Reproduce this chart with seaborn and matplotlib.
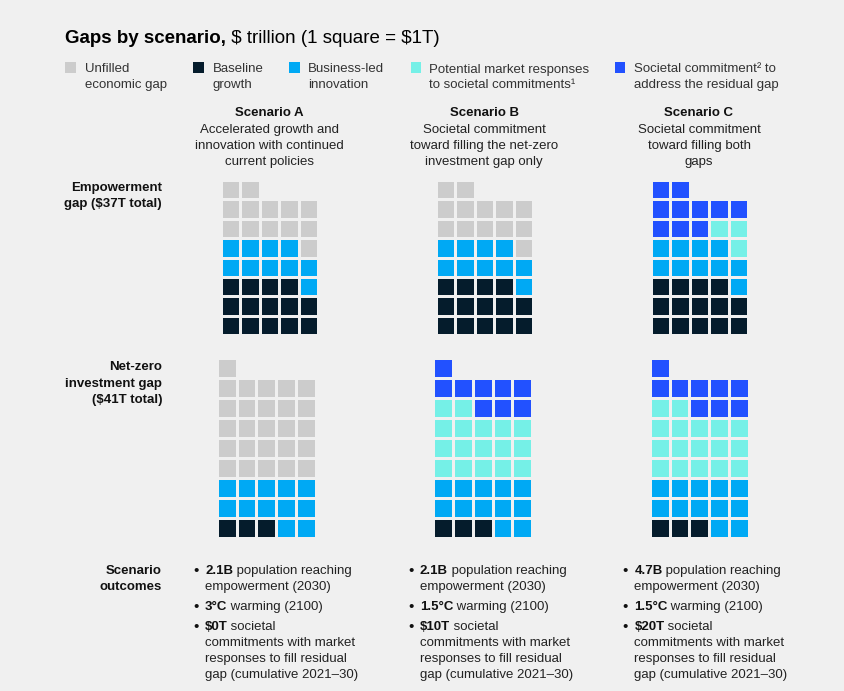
import numpy as np
import matplotlib
matplotlib.use("Agg")
import matplotlib.pyplot as plt
import seaborn as sns
from matplotlib.colors import ListedColormap
from matplotlib.patches import Rectangle

sns.set_theme(style="white")
plt.rcParams['font.family'] = ['Liberation Sans', 'DejaVu Sans']

W, H = 844, 691
BG = '#f0f0f0'
TXT = '#111111'

# ---------------- data ----------------
legend_labels = [
    ["Unfilled", "economic gap"],
    ["Baseline", "growth"],
    ["Business-led", "innovation"],
    ["Potential market responses", "to societal commitments\u00b9"],
    ["Societal commitment\u00b2 to", "address the residual gap"],
]
# colour order: unfilled, baseline, business, market, societal
palette = ['#cccccc', '#051c2c', '#00a9f4', '#75f0e7', '#2251ff']

scenarios = ["Scenario A", "Scenario B", "Scenario C"]
scenario_desc = [
    ["Accelerated growth and", "innovation with continued", "current policies"],
    ["Societal commitment", "toward filling the net-zero", "investment gap only"],
    ["Societal commitment", "toward filling both", "gaps"],
]
gap_labels = [["Empowerment", "gap ($37T total)"],
              ["Net-zero", "investment gap", "($41T total)"]]

# squares ($1T each) per scenario A, B, C
emp_baseline = [14, 14, 14]
emp_business = [10, 10, 10]
emp_market = [0, 0, 3]
emp_societal = [0, 0, 10]
emp_unfilled = [13, 13, 0]

nz_baseline = [3, 3, 3]
nz_business = [12, 12, 12]
nz_market = [0, 17, 17]
nz_societal = [0, 9, 9]
nz_unfilled = [26, 0, 0]

outcome_bold = [["2.1B", "3\u00b0C", "$0T"],
                ["2.1B", "1.5\u00b0C", "$10T"],
                ["4.7B", "1.5\u00b0C", "$20T"]]
outcome_rest = [
    [[" population reaching", "empowerment (2030)"], [" warming (2100)"],
     [" societal", "commitments with market", "responses to fill residual", "gap (cumulative 2021\u201330)"]],
    [[" population reaching", "empowerment (2030)"], [" warming (2100)"],
     [" societal", "commitments with market", "responses to fill residual", "gap (cumulative 2021\u201330)"]],
    [[" population reaching", "empowerment (2030)"], [" warming (2100)"],
     [" societal", "commitments with market", "responses to fill residual", "gap (cumulative 2021\u201330)"]],
]

# ---------------- figure ----------------
fig = plt.figure(figsize=(W / 100, H / 100), dpi=100, facecolor=BG)
renderer = fig.canvas.get_renderer()


def T(x, y, s, **kw):
    kw.setdefault('color', TXT)
    kw.setdefault('fontsize', 9.5)
    kw.setdefault('va', 'baseline')
    return fig.text(x / W, 1 - y / H, s, parse_math=False, **kw)


def waffle_matrix(counts, ncols=5):
    # counts in stacking order as (colour code, count)
    seq = []
    for code, n in counts:
        seq += [code] * n
    total = len(seq)
    nrows = int(np.ceil(total / ncols))
    full_rows = total // ncols
    mat = np.full((nrows, ncols), np.nan)
    for i, code in enumerate(seq):
        r, p = divmod(i, ncols)
        c = (ncols - 1 - p) if (r % 2 == 1 and r < full_rows) else p
        mat[nrows - 1 - r, c] = code
    return mat


cmap = ListedColormap(palette)


def draw_waffle(mat, left, top, pitch_x, pitch_y):
    nrows, ncols = mat.shape
    w = ncols * pitch_x
    h = nrows * pitch_y
    ax = fig.add_axes([(left - 1.25) / W, 1 - (top - 1.25 + h) / H, w / W, h / H])
    ax.set_facecolor(BG)
    sns.heatmap(mat, ax=ax, cmap=cmap, vmin=-0.5, vmax=4.5, mask=np.isnan(mat),
                cbar=False, linewidths=1.8, linecolor=BG,
                xticklabels=False, yticklabels=False)
    for s in ax.spines.values():
        s.set_visible(False)


emp_lefts = [222, 437, 652]
nz_lefts = [218, 434.7, 651]
for i in range(3):
    m1 = waffle_matrix([(1, emp_baseline[i]), (2, emp_business[i]), (3, emp_market[i]),
                        (4, emp_societal[i]), (0, emp_unfilled[i])])
    draw_waffle(m1, emp_lefts[i], 181.3, 19.5, 19.4)
    m2 = waffle_matrix([(1, nz_baseline[i]), (2, nz_business[i]), (3, nz_market[i]),
                        (4, nz_societal[i]), (0, nz_unfilled[i])])
    draw_waffle(m2, nz_lefts[i], 359.7, 19.75, 20.0)

# ---------------- title ----------------
t = T(65, 43, "Gaps by scenario,", fontsize=13.5, fontweight='bold', color='#000000')
bb = t.get_window_extent(renderer=renderer)
T(65 + bb.width, 43, " $ trillion (1 square = $1T)", fontsize=13.5, color='#000000')

# ---------------- legend ----------------
sw_x = [65.3, 193.3, 289.3, 410.5, 614.5]
tx_x = [85, 212.5, 308, 429, 633.5]
for i in range(5):
    fig.patches.append(Rectangle((sw_x[i] / W, 1 - 72.7 / H), 10.4 / W, 10.4 / H,
                                 transform=fig.transFigure, facecolor=palette[i],
                                 edgecolor='none'))
    T(tx_x[i], 72.5, legend_labels[i][0], color='#333333')
    T(tx_x[i], 88, legend_labels[i][1], color='#333333')

# ---------------- scenario headers ----------------
centers = [269.5, 484, 699]
for i in range(3):
    T(centers[i], 116.5, scenarios[i], ha='center', fontweight='bold')
    for j, line in enumerate(scenario_desc[i]):
        T(centers[i], 133 + 16 * j, line, ha='center', color='#222222')

# ---------------- row labels ----------------
T(162, 191, gap_labels[0][0], ha='right', fontweight='bold')
T(162, 207.5, gap_labels[0][1], ha='right', fontweight='bold')
for j, line in enumerate(gap_labels[1]):
    T(162, 370 + 16.5 * j, line, ha='right', fontweight='bold')
T(162, 574, "Scenario", ha='right', fontweight='bold')
T(162, 590, "outcomes", ha='right', fontweight='bold')

# ---------------- outcomes ----------------
bullet_x = [193, 408, 622.5]
group_y = [574, 610, 630]
for i in range(3):
    bx = bullet_x[i]
    tx = bx + 12
    for g in range(3):
        y0 = group_y[g]
        T(bx, y0 + 0.5, "\u2022", fontsize=11)
        tb = T(tx, y0, outcome_bold[i][g], fontweight='bold')
        w = tb.get_window_extent(renderer=renderer).width
        lines = outcome_rest[i][g]
        T(tx + w - 0.5, y0, lines[0], color='#222222')
        for k, line in enumerate(lines[1:]):
            T(tx, y0 + 16 * (k + 1), line, color='#222222')

fig.savefig("out.png", dpi=100, facecolor=BG)
